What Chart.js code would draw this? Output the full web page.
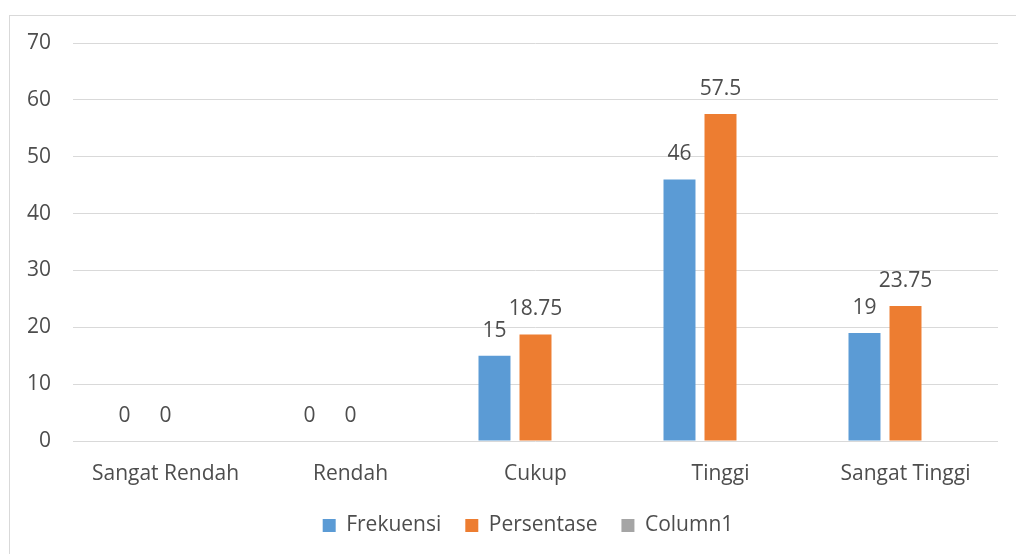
<!DOCTYPE html>
<html>
<head>
<meta charset="utf-8">
<script src="https://cdn.jsdelivr.net/npm/chart.js@4"></script>
<style>
  html, body { margin: 0; padding: 0; background: #fff; }
  #wrap { width: 1016px; height: 554px; }
</style>
</head>
<body>
<div id="wrap"><canvas id="chart" width="1016" height="554"></canvas></div>
<script>
const categories = ['Sangat Rendah', 'Rendah', 'Cukup', 'Tinggi', 'Sangat Tinggi'];
const frekuensi = [0, 0, 15, 46, 19];
const persentase = [0, 0, 18.75, 57.5, 23.75];
const column1 = [null, null, null, null, null];
const yTicks = [0, 10, 20, 30, 40, 50, 60, 70];

const FONT = "'Open Sans', sans-serif";
const TEXT = '#4d4d4d';

// outer chart border like the office chart frame
const frame = {
  id: 'frame',
  beforeDraw(chart) {
    const c = chart.ctx;
    c.save();
    c.fillStyle = '#fff';
    c.fillRect(0, 0, chart.width, chart.height);
    c.strokeStyle = '#d9d9d9';
    c.lineWidth = 1;
    c.strokeRect(9.5, 15.5, chart.width + 10, chart.height + 10);
    c.restore();
  }
};

// legend sits a little right of the canvas centre in the original
const legendShift = {
  id: 'legendShift',
  afterLayout(chart) {
    chart.legend.left += 24;
    chart.legend.right += 24;
  }
};

// value labels above bars
const valueLabels = {
  id: 'valueLabels',
  afterDatasetsDraw(chart) {
    const c = chart.ctx;
    c.save();
    c.font = '21px ' + FONT;
    c.fillStyle = TEXT;
    c.textAlign = 'center';
    c.textBaseline = 'middle';
    [0, 1].forEach(di => {
      const meta = chart.getDatasetMeta(di);
      meta.data.forEach((bar, i) => {
        const v = chart.data.datasets[di].data[i];
        if (v === null) return;
        c.fillText(String(v), bar.x, bar.y - 25);
      });
    });
    c.restore();
  }
};

new Chart(document.getElementById('chart').getContext('2d'), {
  type: 'bar',
  data: {
    labels: categories,
    datasets: [
      { label: 'Frekuensi', data: frekuensi, backgroundColor: '#5B9BD5' },
      { label: 'Persentase', data: persentase, backgroundColor: '#ED7D31' },
      { label: 'Column1', data: column1, backgroundColor: '#A5A5A5' }
    ]
  },
  options: {
    responsive: false,
    animation: false,
    layout: { padding: { left: 10, right: 18, top: 43, bottom: 8 } },
    datasets: { bar: { categoryPercentage: 0.665, barPercentage: 0.78 } },
    plugins: {
      legend: {
        position: 'bottom',
        labels: {
          font: { family: FONT, size: 21 },
          color: TEXT,
          boxWidth: 13,
          boxHeight: 13,
          padding: 24
        }
      },
      tooltip: { enabled: false }
    },
    scales: {
      x: {
        grid: { display: false },
        border: { display: false },
        ticks: { font: { family: FONT, size: 21 }, color: TEXT, padding: 12, maxRotation: 0 },
        afterFit(s) { s.height = 50; }
      },
      y: {
        min: 0,
        max: 70,
        afterBuildTicks(s) { s.ticks = yTicks.map(v => ({ value: v })); },
        grid: { color: '#d9d9d9', lineWidth: 1, drawTicks: false },
        border: { display: false },
        ticks: { font: { family: FONT, size: 21 }, color: TEXT, padding: 22 },
        afterFit(s) { s.width = 63; }
      }
    }
  },
  plugins: [frame, legendShift, valueLabels]
});
</script>
</body>
</html>
